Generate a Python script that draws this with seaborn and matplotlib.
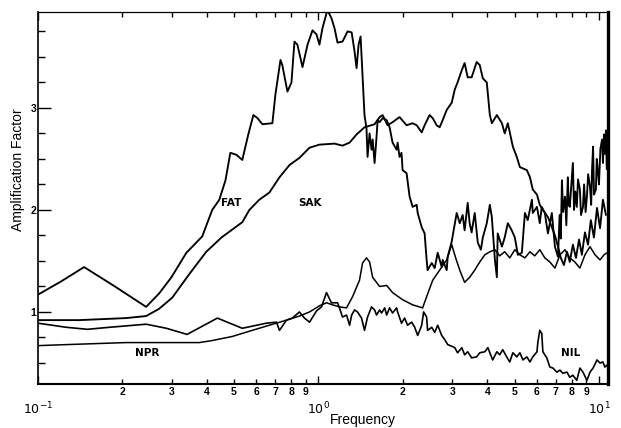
import matplotlib
matplotlib.use("Agg")
import matplotlib.pyplot as plt
import seaborn as sns
import pandas as pd

# ---- site response curves: frequency (Hz) and amplification factor ----
fat_freq = [0.100, 0.121, 0.146, 0.188, 0.243, 0.270, 0.299, 0.338, 0.385, 0.418,
            0.443, 0.466, 0.485, 0.510, 0.535, 0.562, 0.586, 0.606, 0.631, 0.685,
            0.702, 0.732, 0.743, 0.775, 0.801, 0.821, 0.841, 0.877, 0.914, 0.952,
            0.984, 1.008, 1.033, 1.076, 1.112, 1.141, 1.169, 1.218, 1.270, 1.313,
            1.345, 1.367, 1.390, 1.413, 1.436, 1.459, 1.483, 1.496, 1.521, 1.546,
            1.560, 1.585, 1.611, 1.625, 1.652, 1.693, 1.750, 1.793, 1.837, 1.899,
            1.915, 1.945, 1.977, 1.995, 2.061, 2.113, 2.166, 2.239, 2.258, 2.334,
            2.390, 2.430, 2.449, 2.533, 2.596, 2.661, 2.750, 2.772, 2.865, 2.889,
            2.985, 3.110, 3.189, 3.266, 3.319, 3.404, 3.459, 3.516, 3.606, 3.698,
            3.793, 3.854, 3.981, 4.083, 4.150, 4.256, 4.325, 4.355, 4.508, 4.613,
            4.732, 4.887, 5.012, 5.140, 5.309, 5.445, 5.572, 5.768, 5.808, 6.012,
            6.152, 6.252, 6.412, 6.577, 6.792, 6.966, 7.145, 7.240, 7.310, 7.379,
            7.450, 7.568, 7.650, 7.745, 7.800, 7.870, 7.950, 8.072, 8.150, 8.240,
            8.337, 8.420, 8.551, 8.630, 8.770, 8.850, 8.960, 9.057, 9.150, 9.290,
            9.380, 9.450, 9.528, 9.600, 9.750, 9.820, 9.908, 10.00, 10.12, 10.26,
            10.33, 10.42, 10.50, 10.59, 10.66]
fat_amp = [1.17, 1.30, 1.44, 1.25, 1.05, 1.18, 1.34, 1.58, 1.74, 2.00,
           2.10, 2.29, 2.56, 2.54, 2.49, 2.74, 2.93, 2.90, 2.84, 2.85,
           3.13, 3.47, 3.42, 3.16, 3.25, 3.65, 3.62, 3.40, 3.62, 3.76,
           3.72, 3.62, 3.78, 3.96, 3.88, 3.78, 3.64, 3.65, 3.75, 3.74,
           3.55, 3.39, 3.62, 3.70, 3.32, 2.93, 2.80, 2.52, 2.75, 2.59,
           2.69, 2.46, 2.72, 2.88, 2.86, 2.90, 2.88, 2.81, 2.66, 2.59,
           2.66, 2.52, 2.56, 2.39, 2.36, 2.13, 2.03, 2.05, 1.97, 1.83,
           1.77, 1.51, 1.41, 1.48, 1.43, 1.58, 1.44, 1.51, 1.41, 1.54,
           1.69, 1.97, 1.87, 1.95, 1.80, 2.07, 1.87, 1.78, 1.97, 1.68,
           1.61, 1.73, 1.87, 2.05, 1.93, 1.51, 1.34, 1.77, 1.64, 1.73,
           1.87, 1.80, 1.73, 1.56, 1.58, 1.97, 1.90, 2.10, 1.97, 2.03,
           1.87, 2.03, 1.97, 1.77, 1.97, 1.64, 1.54, 1.95, 1.72, 2.29,
           1.98, 2.13, 1.85, 2.32, 2.05, 2.03, 2.20, 2.46, 2.00, 2.18,
           2.03, 2.30, 2.20, 1.95, 2.03, 2.25, 1.98, 2.13, 2.35, 2.23,
           2.05, 2.40, 2.62, 2.15, 2.20, 2.50, 2.39, 2.25, 2.60, 2.69,
           2.46, 2.74, 2.55, 2.78, 2.40]

sak_freq = [0.100, 0.140, 0.206, 0.243, 0.270, 0.301, 0.346, 0.398, 0.451, 0.535,
            0.567, 0.615, 0.668, 0.726, 0.788, 0.855, 0.929, 1.008, 1.141, 1.218,
            1.291, 1.367, 1.459, 1.585, 1.652, 1.693, 1.763, 1.837, 1.945, 2.061,
            2.166, 2.239, 2.334, 2.390, 2.490, 2.553, 2.639, 2.704, 2.772, 2.865,
            2.985, 3.061, 3.133, 3.243, 3.319, 3.404, 3.516, 3.664, 3.758, 3.854,
            3.981, 4.083, 4.150, 4.325, 4.508, 4.613, 4.732, 4.932, 5.093, 5.224,
            5.534, 5.675, 5.808, 6.012, 6.152, 6.310, 6.577, 6.792, 6.966, 7.145,
            7.311, 7.499, 7.691, 7.870, 8.072, 8.279, 8.492, 8.690, 8.913, 9.141,
            9.354, 9.594, 9.840, 10.09, 10.33, 10.59]
sak_amp = [0.92, 0.92, 0.94, 0.96, 1.03, 1.14, 1.37, 1.59, 1.73, 1.88,
           2.00, 2.10, 2.17, 2.32, 2.44, 2.51, 2.61, 2.64, 2.65, 2.63,
           2.66, 2.74, 2.81, 2.84, 2.91, 2.93, 2.83, 2.86, 2.91, 2.83,
           2.85, 2.83, 2.76, 2.83, 2.93, 2.90, 2.83, 2.81, 2.88, 2.98,
           3.05, 3.18, 3.25, 3.37, 3.44, 3.30, 3.30, 3.45, 3.42, 3.29,
           3.25, 2.93, 2.85, 2.93, 2.85, 2.75, 2.85, 2.62, 2.52, 2.42,
           2.39, 2.32, 2.20, 2.15, 2.05, 2.00, 1.93, 1.83, 1.75, 1.64,
           1.53, 1.46, 1.59, 1.49, 1.66, 1.53, 1.71, 1.56, 1.78, 1.66,
           1.90, 1.73, 2.02, 1.82, 2.10, 1.95]

npr_freq = [0.100, 0.126, 0.206, 0.376, 0.418, 0.493, 0.581, 0.668, 0.769, 0.855,
            0.929, 1.008, 1.068, 1.122, 1.188, 1.259, 1.323, 1.400, 1.436, 1.483,
            1.521, 1.560, 1.652, 1.750, 1.837, 1.995, 2.166, 2.351, 2.430, 2.553,
            2.704, 2.865, 2.985, 3.084, 3.189, 3.319, 3.459, 3.606, 3.758, 3.917,
            4.083, 4.256, 4.426, 4.613, 4.808, 5.012, 5.224, 5.445, 5.675, 5.902,
            6.152, 6.412, 6.683, 6.966, 7.261, 7.568, 7.870, 8.204, 8.551, 8.913,
            9.290, 9.683, 10.09, 10.42, 10.69]
npr_amp = [0.67, 0.68, 0.70, 0.70, 0.72, 0.76, 0.82, 0.87, 0.92, 0.96,
           1.00, 1.06, 1.09, 1.07, 1.05, 1.04, 1.15, 1.31, 1.48, 1.53,
           1.49, 1.34, 1.25, 1.26, 1.19, 1.12, 1.07, 1.04, 1.15, 1.31,
           1.41, 1.51, 1.66, 1.53, 1.41, 1.29, 1.34, 1.41, 1.49, 1.56,
           1.59, 1.61, 1.55, 1.59, 1.53, 1.61, 1.56, 1.53, 1.59, 1.55,
           1.61, 1.53, 1.49, 1.43, 1.56, 1.61, 1.53, 1.49, 1.43, 1.56,
           1.64, 1.56, 1.51, 1.56, 1.58]

nil_freq = [0.100, 0.126, 0.150, 0.180, 0.243, 0.287, 0.340, 0.436, 0.535, 0.652,
            0.708, 0.726, 0.769, 0.807, 0.855, 0.891, 0.929, 0.984, 1.025, 1.068,
            1.112, 1.169, 1.188, 1.218, 1.259, 1.291, 1.313, 1.345, 1.378, 1.424,
            1.459, 1.496, 1.546, 1.585, 1.611, 1.652, 1.679, 1.722, 1.750, 1.793,
            1.837, 1.899, 1.915, 1.977, 2.028, 2.078, 2.148, 2.203, 2.258, 2.334,
            2.371, 2.430, 2.449, 2.533, 2.596, 2.661, 2.750, 2.818, 2.889, 3.010,
            3.061, 3.133, 3.243, 3.319, 3.404, 3.516, 3.664, 3.758, 3.917, 4.018,
            4.083, 4.178, 4.325, 4.426, 4.539, 4.688, 4.808, 4.932, 5.093, 5.224,
            5.358, 5.534, 5.675, 5.808, 6.012, 6.053, 6.152, 6.252, 6.310, 6.516,
            6.683, 6.855, 7.079, 7.261, 7.430, 7.691, 7.870, 8.072, 8.337, 8.551,
            8.770, 9.057, 9.290, 9.528, 9.840, 10.09, 10.33, 10.50, 10.69]
nil_amp = [0.89, 0.85, 0.83, 0.85, 0.88, 0.84, 0.78, 0.94, 0.84, 0.89,
           0.90, 0.82, 0.92, 0.94, 1.00, 0.94, 0.90, 1.01, 1.05, 1.19,
           1.09, 1.09, 1.04, 0.95, 0.97, 0.87, 0.97, 1.02, 1.00, 0.94,
           0.82, 0.95, 1.05, 1.02, 0.97, 1.02, 0.99, 1.04, 0.97, 1.04,
           0.99, 1.04, 1.00, 0.89, 0.94, 0.87, 0.90, 0.85, 0.77, 0.87,
           1.00, 0.95, 0.82, 0.85, 0.80, 0.87, 0.77, 0.73, 0.68, 0.66,
           0.65, 0.60, 0.65, 0.58, 0.61, 0.55, 0.56, 0.60, 0.61, 0.65,
           0.60, 0.53, 0.61, 0.58, 0.63, 0.56, 0.51, 0.60, 0.56, 0.60,
           0.53, 0.56, 0.51, 0.56, 0.61, 0.70, 0.82, 0.79, 0.61, 0.55,
           0.46, 0.45, 0.41, 0.43, 0.40, 0.41, 0.36, 0.38, 0.33, 0.45,
           0.41, 0.33, 0.41, 0.45, 0.53, 0.50, 0.51, 0.46, 0.48]

site_names = ["FAT", "SAK", "NPR", "NIL"]
site_label_freq = [0.489, 0.936, 0.245, 7.94]
site_label_amp = [2.07, 2.07, 0.60, 0.60]

minor_freqs = [0.2, 0.3, 0.4, 0.5, 0.6, 0.7, 0.8, 0.9, 2, 3, 4, 5, 6, 7, 8, 9]
minor_labels = ["2", "3", "4", "5", "6", "7", "8", "9"] * 2
major_freqs = [0.1, 1, 10]
major_labels = [r"$10^{-1}$", r"$10^{0}$", r"$10^{1}$"]

# ---- long table for plotting ----
frames = []
for name, f, a in zip(site_names, [fat_freq, sak_freq, npr_freq, nil_freq],
                      [fat_amp, sak_amp, npr_amp, nil_amp]):
    frames.append(pd.DataFrame({"site": name, "freq": f, "amp": a}))
df = pd.concat(frames, ignore_index=True)

sns.set_theme(style="ticks")
plt.rcParams["font.family"] = ["Liberation Sans", "DejaVu Sans"]
plt.rcParams["mathtext.fontset"] = "dejavusans"

fig = plt.figure(figsize=(6.21, 4.28), dpi=100)
fig.patch.set_facecolor("white")
ax = fig.add_axes([38 / 621, 1 - 384 / 428, 570 / 621, 372 / 428])
ax.set_facecolor("white")

line_w = {"FAT": 1.35, "SAK": 1.35, "NPR": 1.1, "NIL": 1.2}
for name in site_names:
    sub = df[df["site"] == name]
    sns.lineplot(data=sub, x="freq", y="amp", ax=ax, color="black",
                 linewidth=line_w[name], estimator=None, sort=False, legend=False)

ax.set_xscale("log")
ax.set_xlim(0.1, 10.77)
ax.set_ylim(0.294, 3.94)

# x ticks: decades below the digit labels
ax.set_xticks(major_freqs)
ax.set_xticklabels(major_labels)
ax.set_xticks(minor_freqs, minor=True)
ax.set_xticklabels(minor_labels, minor=True)
ax.tick_params(axis="x", which="both", direction="in", top=True, bottom=True,
               color="black", labelcolor="black")
ax.tick_params(axis="x", which="major", length=6, width=1.0, pad=12, labelsize=9)
ax.tick_params(axis="x", which="minor", length=3.6, width=1.0, pad=2, labelsize=7.5)

ax.set_yticks([1, 2, 3])
ax.set_yticklabels(["1", "2", "3"])
ax.set_yticks([0.5, 0.75, 1.25, 1.5, 1.75, 2.25, 2.5, 2.75, 3.25, 3.5, 3.75], minor=True)
ax.tick_params(axis="y", which="both", direction="in", left=True, right=False,
               color="black", labelcolor="black")
ax.tick_params(axis="y", which="major", length=9.5, width=1.0, pad=1, labelsize=7.5)
ax.tick_params(axis="y", which="minor", length=5, width=1.0)

for lab in ax.get_xticklabels(minor=True) + ax.get_yticklabels():
    lab.set_fontweight("bold")

for side, lw in {"left": 1.2, "bottom": 1.5, "top": 0.9, "right": 2.4}.items():
    ax.spines[side].set_visible(True)
    ax.spines[side].set_linewidth(lw)
    ax.spines[side].set_color("black")

ax.set_xlabel("Frequency", fontsize=10, color="black")
ax.xaxis.set_label_coords(0.570, -0.078)
ax.set_ylabel("Amplification Factor", fontsize=10, color="black")
ax.yaxis.set_label_coords(-0.022, 0.575)

for name, f, a in zip(site_names, site_label_freq, site_label_amp):
    ax.text(f, a, name, ha="center", va="center", fontsize=7.5, fontweight="bold",
            family=["Liberation Sans Narrow", "DejaVu Sans"], color="black")

fig.savefig("out.png", dpi=100, facecolor="white")
